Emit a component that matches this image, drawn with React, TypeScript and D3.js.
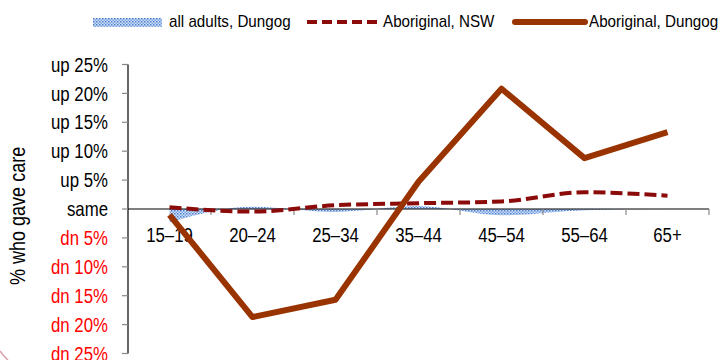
import React from "react";
import * as d3 from "d3";

const categories = ["15–19", "20–24", "25–34", "35–44", "45–54", "55–64", "65+"];
const allAdultsDungog = [-2.3, 0.4, -0.5, 0.5, -1.1, -0.2, 0.0];
const aboriginalNSW = [0.3, -0.45, 0.65, 1.0, 1.3, 2.9, 2.3];
const aboriginalDungog = [-1.0, -18.7, -15.7, 4.7, 20.8, 8.8, 13.3];
const yTicks = [25, 20, 15, 10, 5, 0, -5, -10, -15, -20, -25];

const tickLabel = (v: number) => (v === 0 ? "same" : v > 0 ? `up ${v}%` : `dn ${-v}%`);

const NX = 0.82; // horizontal squeeze to imitate a narrow font

export default function App() {
  const W = 722, H = 360;
  const x = d3.scaleBand<string>().domain(categories).range([128, 709]).padding(0);
  const y = d3.scaleLinear().domain([-25, 25]).range([353.5, 64.5]);
  const cx = (c: string) => (x(c) as number) + x.bandwidth() / 2;

  const areaGen = d3
    .area<number>()
    .x((_, i) => cx(categories[i]))
    .y0(y(0))
    .y1((d) => y(d))
    .curve(d3.curveMonotoneX);
  const lineGen = d3
    .line<number>()
    .x((_, i) => cx(categories[i]))
    .y((d) => y(d))
    .curve(d3.curveMonotoneX);
  const straight = d3
    .line<number>()
    .x((_, i) => cx(categories[i]))
    .y((d) => y(d));

  const font = "Liberation Sans, Arial, sans-serif";
  const bounds = [...categories.map((c) => x(c) as number), 709];

  const T = (props: {
    x: number; y: number; s: string; size: number; sx: number; anchor?: string; fill?: string; dy?: string;
  }) => (
    <text
      transform={`translate(${props.x},${props.y}) scale(${props.sx},1)`}
      fontSize={props.size}
      textAnchor={props.anchor || "start"}
      fill={props.fill || "#000"}
      dy={props.dy}
    >
      {props.s}
    </text>
  );

  return (
    <svg width={W} height={H} style={{ position: "absolute", left: 0, top: 0 }} fontFamily={font}>
      <defs>
        <pattern id="dots" width="3" height="3" patternUnits="userSpaceOnUse">
          <rect width="3" height="3" fill="#d3e1f7" />
          <rect width="1.5" height="1.5" fill="#4a7fd0" />
          <rect x="1.5" y="1.5" width="1.5" height="1.5" fill="#7aa3e3" />
        </pattern>
      </defs>
      <rect width={W} height={H} fill="#fff" />
      {/* decorative corner arc */}
      <path d="M0,351 A40,40 0 0 0 8,360" fill="none" stroke="#d8a0a8" strokeWidth={1.5} />

      {/* legend */}
      <rect x={93} y={18} width={69} height={9} fill="url(#dots)" />
      <T x={169} y={27} s="all adults, Dungog" size={16} sx={0.95} />
      <line x1={307} y1={22} x2={378} y2={22} stroke="#8b0a0a" strokeWidth={4} strokeDasharray="10,5" />
      <T x={383} y={27} s="Aboriginal, NSW" size={16} sx={0.95} />
      <line x1={515} y1={22} x2={585} y2={22} stroke="#993300" strokeWidth={6} strokeLinecap="round" />
      <T x={589} y={27} s="Aboriginal, Dungog" size={16} sx={0.95} />

      {/* y axis */}
      <line x1={128} y1={y(25)} x2={128} y2={y(-25)} stroke="#000" strokeWidth={1.2} />
      {yTicks.map((t) => (
        <g key={t}>
          <line x1={122} x2={128} y1={y(t)} y2={y(t)} stroke="#888" strokeWidth={1.2} />
          <T
            x={108}
            y={y(t)}
            dy="0.35em"
            anchor="end"
            size={20.5}
            sx={NX}
            fill={t < 0 ? "#ff0000" : "#000"}
            s={tickLabel(t)}
          />
        </g>
      ))}
      <text
        transform={`translate(25,${y(-1.2)}) rotate(-90) scale(${NX},1)`}
        textAnchor="middle"
        fontSize={22}
        fill="#000"
      >
        % who gave care
      </text>

      {/* series */}
      <path d={areaGen(allAdultsDungog) || ""} fill="url(#dots)" />

      {/* x axis */}
      <line x1={128} x2={709} y1={y(0)} y2={y(0)} stroke="#000" strokeWidth={1.2} />
      {bounds.slice(1).map((b, i) => (
        <line key={i} x1={b} x2={b} y1={y(0)} y2={y(0) + 6} stroke="#888" strokeWidth={1.2} />
      ))}
      {categories.map((c) => (
        <T key={c} x={cx(c)} y={y(0) + 33} anchor="middle" size={20.5} sx={NX} s={c} />
      ))}

      <path
        d={lineGen(aboriginalNSW) || ""}
        fill="none"
        stroke="#8b0a0a"
        strokeWidth={4}
        strokeDasharray="12,5"
      />
      <path
        d={straight(aboriginalDungog) || ""}
        fill="none"
        stroke="#993300"
        strokeWidth={6}
        strokeLinejoin="round"
      />
    </svg>
  );
}
